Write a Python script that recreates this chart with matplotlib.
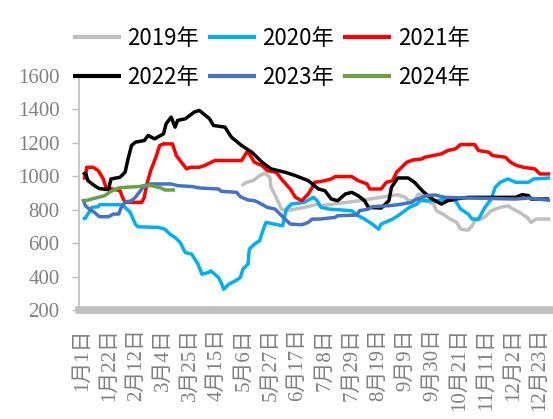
import matplotlib
matplotlib.use("Agg")
import matplotlib.pyplot as plt

# ---- data (day-of-year index, value) ----
tick_days = [0, 21, 42, 63, 84, 105, 126, 147, 168, 189, 210, 231, 252, 273, 294, 315, 336, 357]
tick_labels = ["1月1日", "1月22日", "2月12日", "3月4日", "3月25日", "4月15日", "5月6日", "5月27日",
               "6月17日", "7月8日", "7月29日", "8月19日", "9月9日", "9月30日", "10月21日", "11月11日",
               "12月2日", "12月23日"]

d2019 = [124, 128, 133, 138, 142, 146, 147, 151, 155, 159, 166, 173, 184, 186, 216, 241, 246, 252, 254,
         259, 262, 267, 268, 274, 276, 281, 287, 292, 295, 301, 304, 306, 311, 315, 319, 326, 332, 336,
         341, 347, 350, 354, 365]
v2019 = [944, 964, 974, 1004, 1018, 994, 934, 874, 804, 794, 804, 814, 834, 824, 854, 884, 890, 874, 854,
         854, 894, 884, 854, 834, 794, 774, 744, 724, 684, 678, 704, 734, 744, 764, 794, 814, 824, 804,
         784, 754, 724, 744, 744]

d2020 = [0, 2, 4, 7, 12, 13, 30, 33, 37, 41, 43, 59, 64, 68, 72, 76, 80, 85, 87, 90, 93, 98, 100, 103,
         106, 108, 110, 114, 119, 123, 125, 129, 130, 134, 138, 141, 143, 156, 158, 159, 163, 173, 180,
         183, 186, 192, 210, 215, 220, 226, 231, 233, 242, 248, 255, 261, 263, 276, 284, 291, 295, 301,
         304, 309, 314, 319, 322, 326, 332, 338, 348, 352, 365]
v2020 = [744, 750, 774, 814, 818, 830, 830, 814, 784, 714, 698, 694, 684, 654, 634, 604, 544, 534, 510,
         474, 414, 424, 434, 414, 394, 364, 324, 354, 374, 394, 444, 474, 564, 594, 614, 684, 724, 704,
         774, 804, 834, 844, 874, 854, 814, 804, 794, 764, 744, 714, 684, 714, 744, 774, 814, 834, 854,
         854, 864, 854, 804, 774, 744, 744, 814, 864, 934, 964, 984, 964, 964, 984, 990]

d2021 = [0, 2, 3, 8, 12, 16, 18, 23, 29, 31, 33, 46, 48, 50, 53, 57, 60, 63, 70, 73, 77, 81, 84, 91,
         95, 103, 124, 128, 130, 134, 140, 144, 151, 155, 162, 166, 171, 176, 180, 181, 185, 189, 194,
         197, 210, 215, 222, 224, 233, 237, 242, 245, 249, 253, 258, 265, 267, 280, 285, 291, 295, 306,
         309, 317, 320, 330, 334, 339, 344, 353, 357, 365]
v2021 = [990, 990, 1054, 1054, 1034, 984, 934, 924, 914, 874, 844, 844, 874, 954, 1034, 1114, 1184,
         1194, 1194, 1124, 1084, 1044, 1054, 1054, 1064, 1094, 1094, 1144, 1134, 1084, 1064, 1034, 1024,
         984, 924, 874, 854, 894, 944, 964, 968, 974, 984, 998, 998, 974, 954, 924, 924, 964, 974, 1024,
         1054, 1084, 1098, 1104, 1114, 1134, 1154, 1164, 1190, 1190, 1154, 1144, 1124, 1114, 1084, 1064,
         1054, 1044, 1014, 1014]

d2022 = [0, 2, 4, 9, 13, 20, 22, 29, 33, 35, 38, 41, 48, 51, 56, 63, 65, 69, 72, 74, 80, 87, 91, 99,
         102, 111, 116, 124, 132, 140, 147, 158, 166, 176, 184, 189, 194, 199, 205, 210, 215, 220, 223,
         233, 239, 241, 246, 254, 259, 265, 271, 275, 280, 285, 291, 301, 338, 343, 348, 350, 364]
v2022 = [1010, 1020, 974, 944, 926, 920, 984, 994, 1024, 1094, 1184, 1204, 1214, 1244, 1224, 1254,
         1314, 1354, 1294, 1334, 1344, 1384, 1394, 1344, 1304, 1294, 1234, 1184, 1144, 1084, 1044, 1024,
         1004, 974, 924, 914, 864, 854, 894, 904, 884, 854, 814, 810, 854, 934, 990, 990, 964, 914, 874,
         854, 834, 854, 864, 874, 874, 890, 884, 864, 864]

d2023 = [0, 2, 5, 9, 13, 20, 24, 28, 30, 33, 38, 41, 45, 47, 51, 69, 74, 86, 91, 106, 108, 120, 123,
         129, 134, 137, 144, 150, 154, 158, 162, 171, 176, 179, 185, 197, 199, 214, 216, 223, 226, 239,
         246, 257, 259, 265, 268, 275, 283, 301, 338, 348, 365]
v2023 = [864, 824, 804, 784, 758, 758, 774, 774, 814, 844, 854, 874, 914, 934, 954, 954, 944, 938, 930,
         924, 910, 904, 878, 858, 854, 844, 814, 804, 774, 744, 714, 710, 724, 744, 744, 754, 764, 768,
         794, 804, 818, 824, 830, 844, 858, 874, 884, 888, 874, 870, 864, 870, 856]

d2024 = [0, 2, 7, 12, 17, 22, 28, 33, 43, 48, 54, 61, 64, 72]
v2024 = [854, 854, 864, 874, 884, 910, 930, 934, 938, 944, 944, 930, 918, 918]

series = [
    ("2019年", d2019, v2019, "#BFBFBF"),
    ("2020年", d2020, v2020, "#00B0F0"),
    ("2021年", d2021, v2021, "#FF0000"),
    ("2022年", d2022, v2022, "#000000"),
    ("2023年", d2023, v2023, "#4472C4"),
    ("2024年", d2024, v2024, "#6A9F43"),
]

fig = plt.figure(figsize=(5.53, 4.19), dpi=100)
ax = fig.add_axes([79 / 553, 1 - 310 / 419, (551 - 79) / 553, (310 - 76) / 419])

handles = []
for name, d, v, c in series:
    ln, = ax.plot(d, v, color=c, lw=2.5, label=name, solid_capstyle="butt")
    handles.append(ln)

ax.set_xlim(-3, 365.6)
ax.set_ylim(200, 1600)
ax.set_yticks(range(200, 1601, 200))
ax.set_xticks(tick_days)
ax.set_xticklabels(tick_labels, rotation=90, va="top", ha="center")

serif = ["Liberation Serif", "Noto Sans CJK SC"]
for lab in ax.get_yticklabels():
    lab.set_fontfamily(serif)
    lab.set_fontsize(15)
    lab.set_color("#808080")
for lab in ax.get_xticklabels():
    lab.set_fontfamily(serif)
    lab.set_fontsize(15)
    lab.set_color("#808080")

for s in ["top", "right"]:
    ax.spines[s].set_visible(False)
ax.spines["left"].set_color("#BFBFBF")
ax.spines["left"].set_linewidth(1.2)
ax.spines["bottom"].set_color("#BFBFBF")
ax.spines["bottom"].set_linewidth(5.5)
ax.tick_params(axis="y", length=5, color="#BFBFBF", width=1, pad=9)
ax.tick_params(axis="x", length=0, pad=13)

# row-wise legend order for ncol=3
order = [0, 3, 1, 4, 2, 5]
leg = fig.legend([handles[i] for i in order], [series[i][0] for i in order],
                 loc="upper left", bbox_to_anchor=(73 / 553, 1 - 27 / 419), ncol=3, frameon=False,
                 prop={"family": ["Noto Sans CJK SC", "DejaVu Sans"], "size": 16},
                 handlelength=2.15, handletextpad=0.3, columnspacing=0.4, labelspacing=0.7,
                 borderpad=0, borderaxespad=0)
for h in leg.get_lines():
    h.set_linewidth(3)

fig.savefig("out.png", dpi=100)
